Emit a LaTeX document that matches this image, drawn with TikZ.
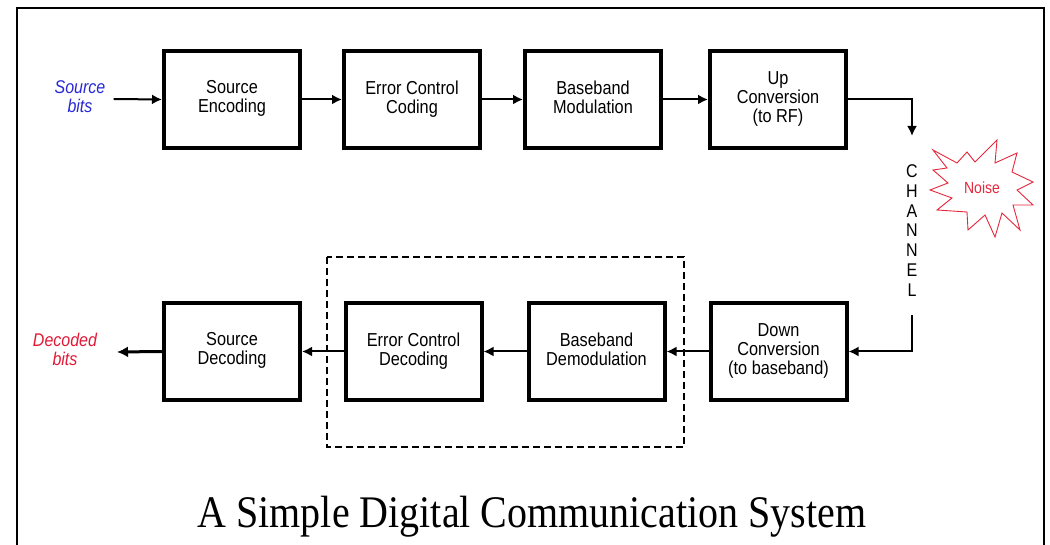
\documentclass[tikz,border=0pt]{standalone}
\usepackage{fontspec}
\setmainfont{Liberation Serif}
\setsansfont{Liberation Sans}
\usetikzlibrary{arrows.meta}
\definecolor{srcblue}{RGB}{40,40,215}
\definecolor{decred}{RGB}{225,25,55}
\definecolor{noisered}{RGB}{230,40,60}
% text set a little taller than wide, as in the slide
\newcommand\tallstack[2][15.5pt]{\scalebox{1}[1.15]{\setlength\baselineskip{#1}\begin{tabular}{@{}c@{}}#2\end{tabular}}}
\tikzset{
  blk/.style={draw, line width=4pt, minimum width=136pt, minimum height=97pt,
    inner sep=0pt, font=\sffamily\fontsize{16.3pt}{15.5pt}\selectfont},
  flow/.style={line width=2pt, -{Latex[length=10pt,width=10pt]}},
  bold flow/.style={line width=3pt, -{Latex[length=11pt,width=11pt]}},
  lbl/.style={inner sep=0pt, font=\sffamily\itshape\fontsize{16pt}{15.5pt}\selectfont},
}
\begin{document}
\begin{tikzpicture}[x=1pt, y=-1pt]
\useasboundingbox (0,0) rectangle (1050,545);
\fill[white] (0,0) rectangle (1050,545);

% open-bottomed frame of the slide
\draw[line width=2.5pt] (17,545) -- (17,8) -- (1044,8) -- (1044,545);

% transmitter chain
\node[blk] (senc) at (232,99.5) {\tallstack{Source\\Encoding}};
\node[blk] (ecc)  at (412,99.5) {\tallstack{Error Control\\Coding}};
\node[blk] (bbm)  at (593,99.5) {\tallstack{Baseband\\Modulation}};
\node[blk] (upc)  at (778,99.5) {\tallstack{Up\\Conversion\\(to RF)}};

% receiver chain
\node[blk] (sdec) at (232,351.5) {\tallstack{Source\\Decoding}};
\node[blk] (ecd)  at (413.5,351.5) {\tallstack{Error Control\\Decoding}};
\node[blk] (bbd)  at (596.5,351.5) {\tallstack{Baseband\\Demodulation}};
\node[blk] (dnc)  at (778.5,351.5) {\tallstack{Down\\Conversion\\(to baseband)}};

% dashed group around the demodulation and decoding stages
\draw[line width=2pt, dash pattern=on 7pt off 4pt] (327,257) rectangle (684,447);

% end labels
\node[lbl, text=srcblue] (src) at (80,99) {\tallstack{Source\\bits}};
\node[lbl, text=decred] (dec) at (65,352) {\tallstack{Decoded\\bits}};

% channel
\node[inner sep=0pt, font=\sffamily\fontsize{16pt}{17.2pt}\selectfont] (chan) at (912,233)
  {\tallstack[17.2pt]{C\\H\\A\\N\\N\\E\\L}};
\coordinate (chin) at (912,136);
\coordinate (chout) at (912,315);

% noise burst
\draw[noisered, line width=0.9pt, fill=white, line join=miter]
  (933,150) -- (957,163) -- (967,152) -- (975,162) -- (997,140) -- (995,163)
  -- (1017,153) -- (1012,172) -- (1033,182) -- (1017,190) -- (1033,205)
  -- (1013,205) -- (1020,230) -- (1002,213) -- (995,237) -- (985,215)
  -- (968,230) -- (967,212) -- (937,210) -- (952,198) -- (930,190)
  -- (948,183) -- (933,170) -- (947,168) -- cycle;
\node[inner sep=0pt, text=noisered, font=\sffamily\fontsize{14pt}{14pt}\selectfont] (noise) at (982,188)
  {\scalebox{1}[1.15]{Noise}};

% connectors
\draw[flow] (src.east) ++(8,0) coordinate (srcout) (srcout) -- (senc.west);
\draw[flow] (senc) -- (ecc);
\draw[flow] (ecc) -- (bbm);
\draw[flow] (bbm) -- (upc);
\draw[flow] (upc.east) -| (chin);
\draw[flow] (chout) |- (dnc.east);
\draw[flow] (dnc) -- (bbd);
\draw[flow] (bbd) -- (ecd);
\draw[flow] (ecd) -- (sdec);
\draw[bold flow] (sdec.west) -- (dec.east -| 117,0);

% caption
\node[inner sep=0pt, font=\rmfamily\fontsize{40pt}{40pt}\selectfont] (title) at (532,517)
  {\scalebox{1}[1.13]{A Simple Digital Communication System}};
\end{tikzpicture}
\end{document}
